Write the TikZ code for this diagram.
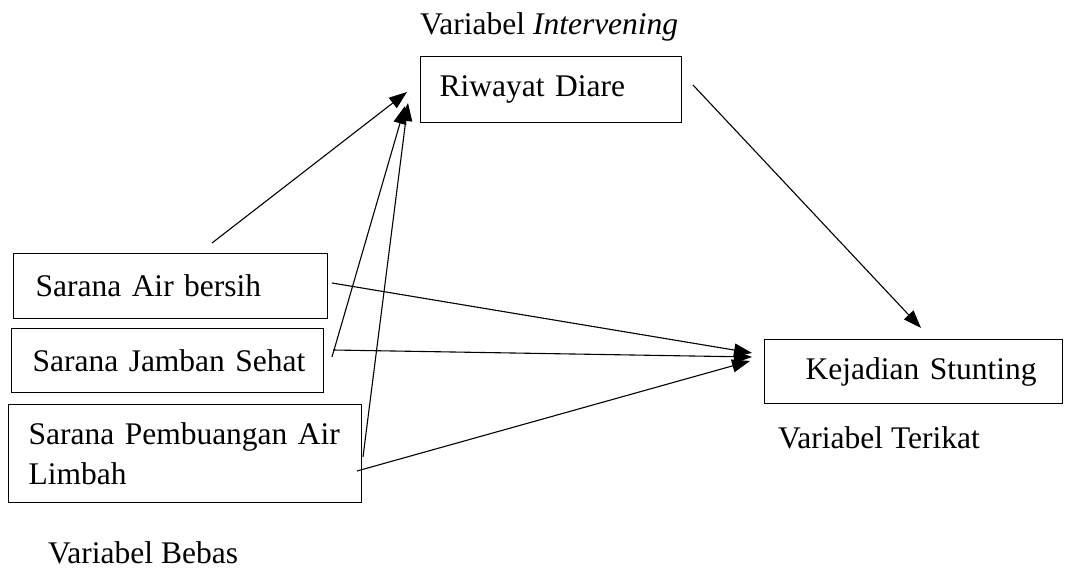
\documentclass[tikz,border=0pt]{standalone}
\usepackage{fontspec}
\setmainfont{Liberation Serif}
\usetikzlibrary{arrows.meta}
\begin{document}
\begin{tikzpicture}[x=1pt,y=-1pt,
  every node/.style={font=\fontsize{31.5}{40}\selectfont},
  box/.style={draw, line width=1.1pt, inner ysep=0pt, align=left, anchor=north west},
  lbl/.style={anchor=base west, inner sep=0pt},
  conn/.style={line width=1.1pt, -{Triangle[length=18pt,width=13pt]}}]
\useasboundingbox (0,0) rectangle (1073,569);
% boxes
\node[box, inner xsep=19pt, text width=223pt, minimum height=66pt] (riw) at (420,56) {\mbox{Riwayat Diare}};
\node[box, inner xsep=22pt, text width=270pt, minimum height=65pt] (air) at (13,253) {\mbox{Sarana Air bersih}};
\node[box, inner xsep=21pt, text width=270pt, minimum height=64pt] (jam) at (11,328) {\mbox{Sarana Jamban Sehat}};
\node[box, inner xsep=20pt, text width=313pt, minimum height=98pt] (lim) at (8,404) {\mbox{Sarana Pembuangan Air}\\Limbah};
\node[box, inner xsep=41pt, text width=216pt, minimum height=64pt] (kej) at (764,339) {\mbox{Kejadian Stunting}};
% labels
\node[lbl] (lint) at (420,35) {Variabel \textit{Intervening}};
\node[lbl] (lter) at (778,448) {Variabel Terikat};
\node[lbl] (lbeb) at (48,563) {Variabel Bebas};
% connector end points
\coordinate (a1) at (212,243);
\coordinate (t1) at (407,92);
\coordinate (a2) at (332,357);
\coordinate (t2) at (405,106);
\coordinate (a3) at (363,457);
\coordinate (t3) at (408,103);
\coordinate (r1) at (693,85);
\coordinate (k1) at (921,328);
\coordinate (b1) at (332,283);
\coordinate (kb) at (752,353);
\coordinate (b2) at (333,350);
\coordinate (kj) at (752,357);
\coordinate (b3) at (357,471);
\coordinate (kl) at (750,361);
% connectors
\draw[conn] (a1) -- (t1);
\draw[conn] (a2) -- (t2);
\draw[conn] (a3) -- (t3);
\draw[conn] (r1) -- (k1);
\draw[conn] (b1) -- (kb);
\draw[conn] (b2) -- (kj);
\draw[conn] (b3) -- (kl);
\end{tikzpicture}
\end{document}
